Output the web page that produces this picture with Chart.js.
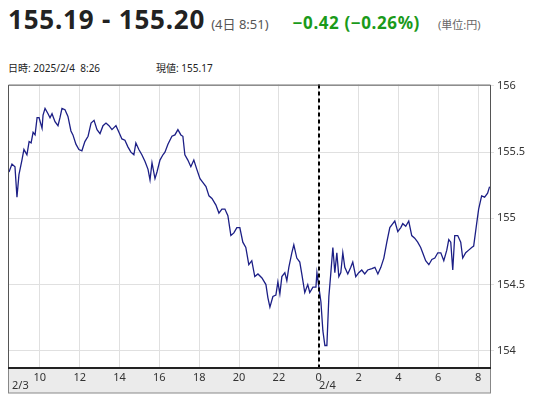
<!DOCTYPE html>
<html>
<head>
<meta charset="utf-8">
<script src="https://cdn.jsdelivr.net/npm/chart.js@4"></script>
<style>
  body { margin: 0; width: 540px; height: 400px; background: #fff; font-family: "Noto Sans", "Noto Sans CJK JP", sans-serif; position: relative; overflow: hidden; }
  #head { position: absolute; left: 8px; top: 1px; white-space: nowrap; }
  #price { font-size: 26px; font-weight: bold; color: #222; letter-spacing: 0.8px; }
  #when { font-size: 13px; color: #555; margin-left: 6px; }
  #chg { font-size: 17px; font-weight: bold; color: #1a9a1a; margin-left: 24px; letter-spacing: 0.6px; }
  #unit { font-size: 11px; color: #666; margin-left: 18px; }
  #info { position: absolute; left: 8px; top: 60px; font-size: 10px; color: #222; }
  #info span { margin-right: 56px; }
  #wrap { position: absolute; left: 0; top: 75px; width: 540px; height: 325px; }
</style>
</head>
<body>
<div id="head"><span id="price">155.19 - 155.20</span><span id="when">(4日 8:51)</span><span id="chg">−0.42 (−0.26%)</span><span id="unit">(単位:円)</span></div>
<div id="info"><span>日時: 2025/2/4&nbsp; 8:26</span><span>現値: 155.17</span></div>
<div id="wrap"><canvas id="c"></canvas></div>
<script>
// hours since 2/3 0:00
const hours = [8.45,8.60,8.75,8.85,8.95,9.10,9.20,9.35,9.46,9.56,9.66,9.76,9.86,9.96,10.11,10.16,10.26,10.41,10.51,10.61,10.76,10.91,11.01,11.11,11.26,11.41,11.56,11.66,11.81,11.96,12.11,12.26,12.42,12.57,12.72,12.87,13.02,13.17,13.32,13.47,13.62,13.82,13.97,14.12,14.27,14.42,14.57,14.72,14.82,14.97,15.12,15.28,15.43,15.53,15.63,15.78,15.88,16.03,16.18,16.28,16.43,16.63,16.78,16.93,17.08,17.18,17.28,17.43,17.58,17.73,17.88,18.04,18.19,18.34,18.49,18.64,18.84,18.99,19.14,19.29,19.44,19.59,19.74,19.89,20.04,20.19,20.34,20.49,20.64,20.79,20.95,21.15,21.35,21.45,21.55,21.70,21.85,21.95,22.05,22.15,22.30,22.40,22.50,22.65,22.75,22.90,23.05,23.15,23.30,23.45,23.55,23.71,23.86,23.91,24.01,24.11,24.21,24.31,24.41,24.51,24.61,24.71,24.81,24.91,25.01,25.11,25.21,25.31,25.46,25.61,25.71,25.86,26.01,26.16,26.31,26.46,26.67,26.82,26.97,27.12,27.27,27.42,27.57,27.72,27.82,27.97,28.12,28.22,28.37,28.52,28.67,28.82,28.97,29.12,29.22,29.37,29.53,29.68,29.83,29.98,30.13,30.28,30.43,30.53,30.63,30.73,30.83,30.98,31.13,31.23,31.38,31.53,31.68,31.78,31.93,32.03,32.18,32.33,32.48,32.58];
const rates = [155.35,155.41,155.39,155.16,155.33,155.44,155.52,155.48,155.58,155.57,155.65,155.63,155.76,155.76,155.68,155.78,155.83,155.79,155.76,155.79,155.73,155.70,155.76,155.83,155.82,155.77,155.66,155.63,155.56,155.52,155.51,155.58,155.62,155.72,155.74,155.67,155.64,155.70,155.72,155.70,155.67,155.70,155.65,155.60,155.59,155.54,155.50,155.48,155.57,155.52,155.48,155.43,155.37,155.29,155.42,155.30,155.35,155.44,155.48,155.50,155.56,155.62,155.63,155.67,155.63,155.62,155.48,155.44,155.39,155.44,155.37,155.30,155.27,155.24,155.17,155.15,155.10,155.04,155.07,155.07,155.02,154.87,154.89,154.93,154.93,154.82,154.78,154.65,154.68,154.56,154.58,154.55,154.50,154.40,154.33,154.41,154.42,154.52,154.43,154.56,154.59,154.53,154.63,154.74,154.80,154.70,154.67,154.58,154.44,154.50,154.44,154.48,154.48,154.59,154.48,154.37,154.15,154.04,154.04,154.41,154.59,154.78,154.59,154.74,154.56,154.59,154.74,154.63,154.58,154.63,154.67,154.56,154.59,154.61,154.58,154.61,154.62,154.63,154.58,154.63,154.70,154.82,154.93,154.96,154.98,154.90,154.93,154.96,154.94,154.98,154.87,154.85,154.82,154.78,154.74,154.68,154.65,154.69,154.70,154.74,154.74,154.68,154.76,154.84,154.82,154.61,154.87,154.87,154.82,154.70,154.74,154.76,154.78,154.79,154.96,155.07,155.17,155.16,155.19,155.24];
const xTicks = [10,12,14,16,18,20,22,24,26,28,30,32];
const yTicks = [154,154.5,155,155.5,156];
const dayLabels = [{h: 8.4, text: '2/3'}, {h: 24, text: '2/4'}];

const frame = {
  id: 'frame',
  beforeDraw(chart) {
    const {ctx, chartArea: a} = chart;
    ctx.save();
    ctx.fillStyle = '#ebebeb';
    ctx.fillRect(a.left, a.bottom, a.right - a.left, 25);
    ctx.strokeStyle = '#888';
    ctx.lineWidth = 1;
    ctx.strokeRect(a.left + 0.5, a.bottom, a.right - a.left, 25);
    ctx.restore();
  },
  afterDatasetsDraw(chart) {
    const {ctx, chartArea: a, scales: {x}} = chart;
    ctx.save();
    const zx = Math.round(x.getPixelForValue(24));
    ctx.strokeStyle = '#000';
    ctx.lineWidth = 2;
    ctx.setLineDash([4, 3]);
    ctx.beginPath(); ctx.moveTo(zx, a.top); ctx.lineTo(zx, a.bottom); ctx.stroke();
    ctx.setLineDash([]);
    ctx.lineWidth = 1;
    ctx.strokeStyle = '#555';
    ctx.beginPath();
    ctx.moveTo(a.left + 0.5, a.bottom); ctx.lineTo(a.left + 0.5, a.top + 0.5);
    ctx.lineTo(a.right + 0.5, a.top + 0.5); ctx.lineTo(a.right + 0.5, a.bottom);
    ctx.stroke();
    ctx.lineWidth = 2;
    ctx.strokeStyle = '#222';
    ctx.beginPath(); ctx.moveTo(a.left, a.bottom); ctx.lineTo(a.right + 1, a.bottom); ctx.stroke();
    ctx.fillStyle = '#333';
    ctx.font = '11px "Noto Sans", sans-serif';
    ctx.textBaseline = 'middle';
    dayLabels.forEach(d => {
      const px = d.h === 24 ? zx : a.left + 4;
      ctx.fillText(d.text, px, a.bottom + 18);
    });
    ctx.restore();
  }
};

new Chart(document.getElementById('c'), {
  type: 'line',
  data: {
    datasets: [{
      data: hours.map((h, i) => ({x: h, y: rates[i]})),
      borderColor: '#1c1f86',
      borderWidth: 1.3,
      pointRadius: 0,
      tension: 0
    }]
  },
  options: {
    responsive: true,
    maintainAspectRatio: false,
    animation: false,
    layout: {padding: {left: 8, top: 5, right: 0, bottom: 0}},
    plugins: {legend: {display: false}, tooltip: {enabled: false}},
    scales: {
      x: {
        type: 'linear', min: 8.4, max: 32.6,
        afterBuildTicks: s => { s.ticks = xTicks.map(v => ({value: v})); },
        afterFit: s => { s.height = 32; },
        grid: {color: '#e0e0e0', drawTicks: false},
        border: {display: false},
        ticks: {
          padding: 3, maxRotation: 0, color: '#333',
          font: {size: 11, family: '"Noto Sans", sans-serif'},
          callback: v => String(v % 24)
        }
      },
      y: {
        position: 'right', min: 153.87, max: 156.01,
        afterBuildTicks: s => { s.ticks = yTicks.map(v => ({value: v})); },
        afterFit: s => { s.width = 50; },
        grid: {color: '#e0e0e0', tickLength: 4},
        border: {display: false},
        ticks: {
          padding: 3, color: '#333',
          font: {size: 11, family: '"Noto Sans", sans-serif'},
          callback: v => String(v)
        }
      }
    }
  },
  plugins: [frame]
});
</script>
</body>
</html>
